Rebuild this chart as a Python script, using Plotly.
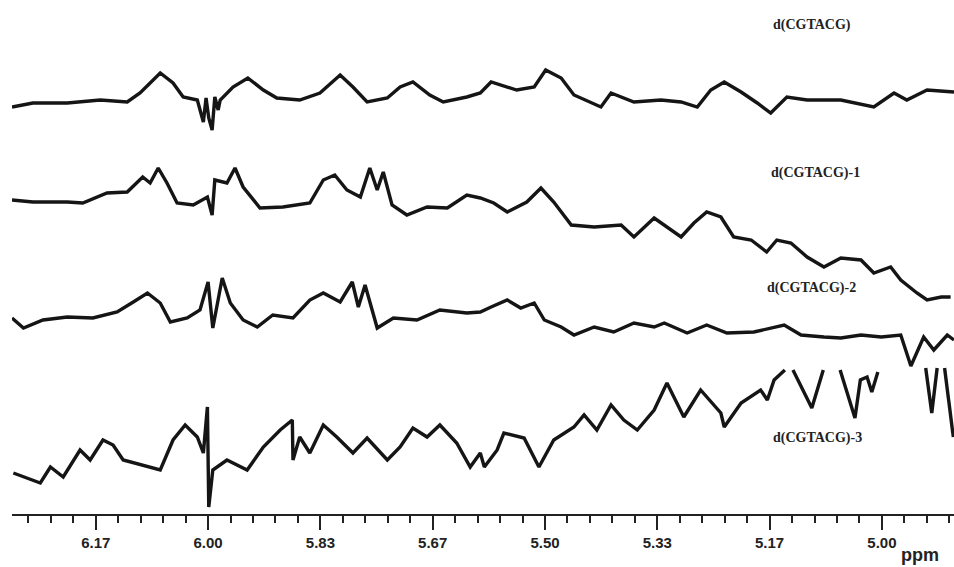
import plotly.graph_objects as go

# chemical shift (ppm) and relative intensity readings for each spectrum
ppm_a = [6.291, 6.260, 6.209, 6.160, 6.120, 6.101, 6.071, 6.052, 6.037, 6.016, 6.007, 6.003, 5.999, 5.994,
         5.990, 5.985, 5.982, 5.963, 5.941, 5.918, 5.898, 5.864, 5.834, 5.804, 5.785, 5.764, 5.734, 5.715,
         5.696, 5.671, 5.651, 5.616, 5.596, 5.580, 5.542, 5.516, 5.499, 5.476, 5.457, 5.417, 5.402, 5.368,
         5.328, 5.298, 5.274, 5.254, 5.234, 5.209, 5.185, 5.165, 5.141, 5.111, 5.061, 5.012, 4.982, 4.963,
         4.933, 4.903, 4.893]
int_a = [407, 411, 411, 414, 412, 421, 441, 431, 417, 414, 392, 416, 396, 384,
         417, 404, 414, 427, 436, 424, 416, 414, 421, 439, 427, 412, 416, 427,
         432, 419, 412, 417, 421, 432, 424, 427, 444, 436, 419, 407, 421, 412,
         414, 412, 407, 424, 432, 422, 411, 401, 417, 414, 414, 407, 421, 414,
         424, 422, 422]

ppm_b = [6.291, 6.260, 6.209, 6.186, 6.150, 6.120, 6.097, 6.086, 6.074, 6.061, 6.046, 6.022, 6.001, 5.994,
         5.990, 5.972, 5.960, 5.948, 5.923, 5.889, 5.849, 5.829, 5.812, 5.794, 5.774, 5.760, 5.749, 5.740,
         5.727, 5.705, 5.675, 5.645, 5.616, 5.596, 5.576, 5.556, 5.527, 5.506, 5.487, 5.461, 5.427, 5.387,
         5.368, 5.338, 5.298, 5.279, 5.260, 5.239, 5.220, 5.194, 5.171, 5.156, 5.135, 5.111, 5.086, 5.061,
         5.031, 5.012, 4.987, 4.972, 4.948, 4.933, 4.912, 4.898]
int_b = [314, 312, 312, 311, 321, 322, 337, 331, 346, 331, 311, 309, 317, 299,
         334, 331, 346, 327, 306, 307, 311, 334, 339, 324, 317, 346, 324, 342,
         309, 299, 307, 306, 319, 316, 311, 302, 312, 326, 312, 289, 287, 289,
         277, 296, 277, 291, 302, 297, 277, 274, 262, 274, 271, 257, 247, 256,
         254, 241, 247, 234, 221, 214, 217, 217]

ppm_c = [6.291, 6.274, 6.245, 6.209, 6.171, 6.135, 6.111, 6.090, 6.071, 6.056, 6.031, 6.012, 6.000, 5.993,
         5.979, 5.967, 5.948, 5.927, 5.904, 5.874, 5.849, 5.829, 5.804, 5.786, 5.777, 5.767, 5.749, 5.725,
         5.690, 5.656, 5.616, 5.596, 5.580, 5.556, 5.536, 5.516, 5.501, 5.476, 5.457, 5.427, 5.398, 5.368,
         5.338, 5.323, 5.289, 5.260, 5.230, 5.190, 5.145, 5.120, 5.086, 5.061, 5.031, 5.001, 4.972, 4.957,
         4.938, 4.923, 4.903, 4.893]
int_c = [196, 186, 194, 197, 196, 202, 212, 221, 211, 192, 196, 204, 232, 186,
         236, 211, 194, 187, 199, 196, 214, 221, 212, 232, 207, 229, 186, 196,
         194, 204, 201, 202, 207, 214, 206, 211, 194, 187, 179, 187, 182, 191,
         187, 191, 181, 189, 181, 182, 189, 179, 177, 176, 179, 177, 179, 148,
         177, 164, 179, 174]

ppm_d = [6.289, 6.269, 6.249, 6.234, 6.215, 6.190, 6.175, 6.156, 6.141, 6.126, 6.090, 6.071, 6.052, 6.034,
         6.016, 6.007, 6.001, 5.999, 5.993, 5.972, 5.942, 5.918, 5.893, 5.875, 5.874, 5.864, 5.849, 5.829,
         5.809, 5.785, 5.764, 5.734, 5.715, 5.696, 5.675, 5.656, 5.631, 5.611, 5.596, 5.590, 5.571, 5.561,
         5.531, 5.509, 5.487, 5.457, 5.442, 5.423, 5.402, 5.383, 5.363, 5.338, 5.319, 5.294, 5.269, 5.239,
         5.234, 5.209, 5.180, 5.170, 5.160, 5.144, 5.136, 5.132, 5.104, 5.087, 5.075, 5.062, 5.040, 5.032,
         5.022, 5.015, 5.006, 4.990, 4.935, 4.926, 4.918, 4.913, 4.907, 4.894]
int_d = [41, 36, 31, 47, 37, 64, 54, 74, 69, 54, 47, 44, 74, 89,
         77, 61, 107, 7, 44, 54, 44, 67, 84, 94, 54, 77, 61, 89,
         77, 61, 76, 54, 67, 86, 77, 89, 71, 47, 61, 47, 64, 81,
         76, 47, 74, 87, 99, 84, 109, 94, 84, 104, 131, 97, 124, 101,
         87, 111, 124, 114, 134, 144, None, 144, 106, 144, None, 144, 96, 134,
         137, 122, 142, None, 146, 101, 146, None, 146, 77]

labels = ["d(CGTACG)", "d(CGTACG)-1", "d(CGTACG)-2", "d(CGTACG)-3"]
label_ppm = [5.104, 5.099, 5.105, 5.096]
label_int = [489, 341, 226, 76]

major_vals = [6.1667, 6.0, 5.8333, 5.6667, 5.5, 5.3333, 5.1667, 5.0]
major_text = ["6.17", "6.00", "5.83", "5.67", "5.50", "5.33", "5.17", "5.00"]

fig = go.Figure()
for xs, ys in [(ppm_a, int_a), (ppm_b, int_b), (ppm_c, int_c), (ppm_d, int_d)]:
    fig.add_trace(go.Scatter(x=xs, y=ys, mode="lines", connectgaps=False,
                             line=dict(color="#151515", width=3.4), showlegend=False,
                             hoverinfo="skip"))

for t, xp, yp in zip(labels, label_ppm, label_int):
    fig.add_annotation(x=xp, y=yp, xref="x", yref="y", text=t, showarrow=False,
                       font=dict(family="Liberation Serif", size=14, color="#222", weight="bold"))

fig.add_annotation(x=4.944, y=-0.08, xref="x", yref="paper", xanchor="center", yanchor="middle",
                   text="ppm", showarrow=False,
                   font=dict(family="Liberation Sans", size=18, color="#222", weight="bold"))

fig.update_layout(
    width=954, height=567,
    margin=dict(l=12, r=0, t=0, b=53),
    paper_bgcolor="white", plot_bgcolor="white",
    xaxis=dict(range=[6.291, 4.893], showgrid=False, zeroline=False,
               showline=True, linecolor="#222", linewidth=2,
               tickmode="array", tickvals=major_vals, ticktext=major_text,
               ticks="outside", ticklen=14, tickwidth=2, tickcolor="#222",
               tickfont=dict(family="Liberation Sans", size=15, color="#222", weight="bold"),
               minor=dict(tick0=5.0, dtick=1/30, ticks="outside", ticklen=7,
                          tickwidth=2, tickcolor="#222", showgrid=False)),
    yaxis=dict(range=[0, 514], visible=False, showgrid=False, zeroline=False),
)

fig.write_html("out.html", config={"displayModeBar": False},
               post_script="document.body.style.margin='0';")
